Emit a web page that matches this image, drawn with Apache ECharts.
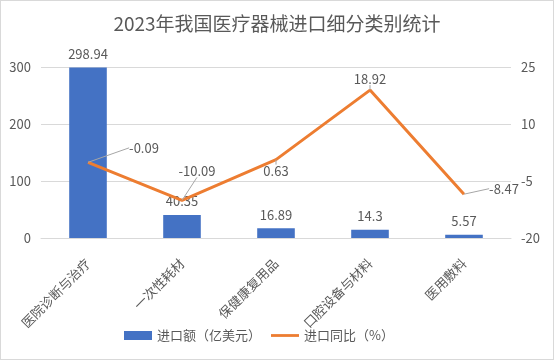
<!DOCTYPE html>
<html><head><meta charset="utf-8">
<script src="https://cdn.jsdelivr.net/npm/echarts@6/dist/echarts.min.js"></script>
<style>html,body{margin:0;padding:0;background:#fff}#c{width:552px;height:358px;border:1px solid #d9d9d9}</style>
</head><body><div id="c"></div>
<script>
const categories = ['医院诊断与治疗','一次性耗材','保健康复用品','口腔设备与材料','医用敷料'];
const importValue = [298.94, 40.35, 16.89, 14.3, 5.57];
const importYoY = [-0.09, -10.09, 0.63, 18.92, -8.47];
const leftTicks = {min: 0, max: 300, interval: 100};
const rightTicks = {min: -20, max: 25, interval: 15};

const labelOffsets = [[56,-3],[15,-18],[0,0],[0,0],[40,6]];
const labelPos = ['top','top','bottom','top','top'];

const chart = echarts.init(document.getElementById('c'));
const txt = '#595959';
chart.setOption({
  title: {text: '2023年我国医疗器械进口细分类别统计', left: 'center', top: 8,
    textStyle: {fontSize: 19, fontWeight: 'normal', color: txt, fontFamily: 'Noto Sans CJK SC'}},
  textStyle: {fontFamily: 'Noto Sans CJK SC'},
  grid: {left: 40, right: 42, top: 66, bottom: 121},
  legend: {bottom: 12, left: 118, itemGap: 10, itemWidth: 28, itemHeight: 9,
    textStyle: {color: txt, fontSize: 13},
    data: [{name: '进口额（亿美元）', icon: 'rect'},
           {name: '进口同比（%）', icon: 'path://M0,0h30v3h-30z'}]},
  xAxis: {type: 'category', data: categories,
    axisLine: {lineStyle: {color: '#d9d9d9'}}, axisTick: {show: false},
    axisLabel: {rotate: 45, interval: 0, color: txt, fontSize: 13, margin: 23}},
  yAxis: [
    {type: 'value', min: leftTicks.min, max: leftTicks.max, interval: leftTicks.interval,
     axisLabel: {color: txt, fontSize: 13, margin: 10}, splitLine: {lineStyle: {color: '#d9d9d9'}}},
    {type: 'value', min: rightTicks.min, max: rightTicks.max, interval: rightTicks.interval,
     axisLabel: {color: txt, fontSize: 13, margin: 10}, splitLine: {show: false}}
  ],
  series: [
    {name: '进口额（亿美元）', type: 'bar', data: importValue, barWidth: '40%',
     itemStyle: {color: '#4472C4'},
     label: {show: true, position: 'top', color: txt, fontSize: 13, distance: 7}},
    {name: '进口同比（%）', type: 'line', yAxisIndex: 1, symbol: 'circle', symbolSize: 0.01,
     showSymbol: true,
     data: importYoY.map((v, i) => ({value: v, label: {position: labelPos[i]}})),
     lineStyle: {color: '#ED7D31', width: 3}, itemStyle: {color: '#ED7D31'},
     label: {show: true, color: txt, fontSize: 13, distance: 5},
     labelLine: {show: true, lineStyle: {color: '#a6a6a6', width: 1}},
     labelLayout: p => ({dx: labelOffsets[p.dataIndex][0], dy: labelOffsets[p.dataIndex][1]})}
  ]
});
</script></body></html>
